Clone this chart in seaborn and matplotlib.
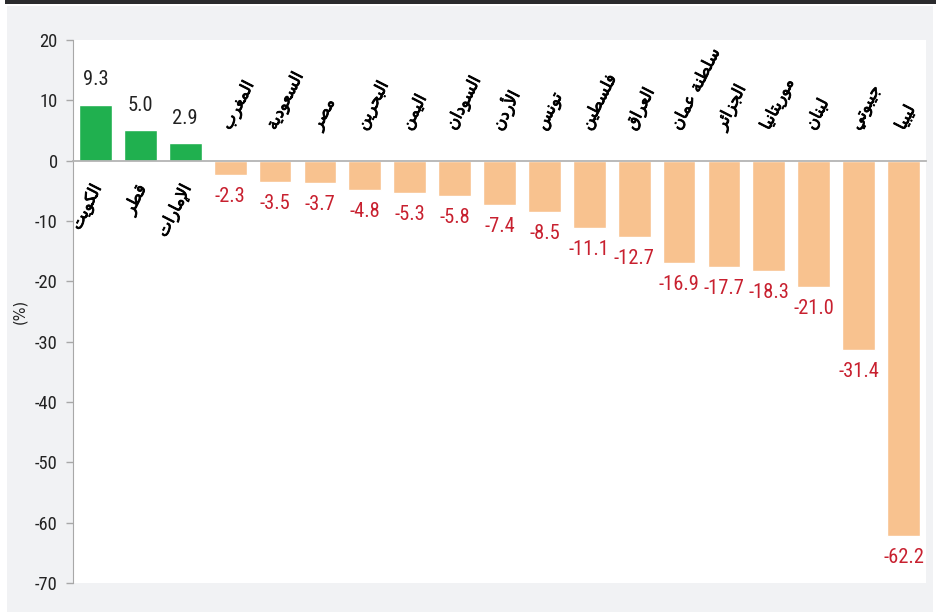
import matplotlib
matplotlib.use("Agg")
import matplotlib.pyplot as plt
from matplotlib import font_manager as fm
from matplotlib import patheffects as pe
from matplotlib.textpath import TextPath
from matplotlib.patches import Rectangle
import seaborn as sns
import pandas as pd
import numpy as np

sns.set_style('white')

# data
countries = ["الكويت", "قطر", "الإمارات", "المغرب", "السعودية", "مصر", "البحرين",
             "اليمن", "السودان", "الأردن", "تونس", "فلسطين", "العراق", "سلطنة عمان",
             "الجزائر", "موريتانيا", "لبنان", "جيبوتي", "ليبيا"]
values = [9.3, 5.0, 2.9, -2.3, -3.5, -3.7, -4.8, -5.3, -5.8, -7.4, -8.5, -11.1,
          -12.7, -16.9, -17.7, -18.3, -21.0, -31.4, -62.2]
y_ticks = [20, 10, 0, -10, -20, -30, -40, -50, -60, -70]

GREEN = "#20b04f"
PEACH = "#f8c28f"
RED = "#c8202f"

# pick the narrowest regular latin font we have (the original uses a condensed face)
families = ('dejavu', 'liberation', 'noto sans', 'roboto', 'open sans', 'lato', 'inter')
best = None
for f in fm.fontManager.ttflist:
    nm = f.name.lower()
    if not nm.startswith(families) or 'cjk' in nm or 'mono' in nm or 'serif' in nm:
        continue
    if f.style != 'normal' or f.weight not in (400, 'normal', 'regular'):
        continue
    try:
        prop = fm.FontProperties(fname=f.fname)
        bb = TextPath((0, 0), "-16.9", size=100, prop=prop).get_extents()
        ratio = bb.width / bb.height
    except Exception:
        continue
    score = abs(ratio - 2.55)
    if best is None or score < best[0]:
        best = (score, prop, bb.height)
num_prop = best[1]
digit_h = best[2] / 100          # digit height per unit font size
val_size = 15 / digit_h * 0.72     # 15 px tall digits
tick_size = 13.5 / digit_h * 0.72

# minimal arabic shaping (matplotlib has no shaper)
FORMS = {
    'ا': (0xFE8D, 0xFE8E), 'أ': (0xFE83, 0xFE84), 'إ': (0xFE87, 0xFE88),
    'ب': (0xFE8F, 0xFE90, 0xFE91, 0xFE92), 'ة': (0xFE93, 0xFE94),
    'ت': (0xFE95, 0xFE96, 0xFE97, 0xFE98), 'ج': (0xFE9D, 0xFE9E, 0xFE9F, 0xFEA0),
    'ح': (0xFEA1, 0xFEA2, 0xFEA3, 0xFEA4), 'د': (0xFEA9, 0xFEAA),
    'ر': (0xFEAD, 0xFEAE), 'ز': (0xFEAF, 0xFEB0),
    'س': (0xFEB1, 0xFEB2, 0xFEB3, 0xFEB4), 'ص': (0xFEB9, 0xFEBA, 0xFEBB, 0xFEBC),
    'ط': (0xFEC1, 0xFEC2, 0xFEC3, 0xFEC4), 'ع': (0xFEC9, 0xFECA, 0xFECB, 0xFECC),
    'غ': (0xFECD, 0xFECE, 0xFECF, 0xFED0), 'ف': (0xFED1, 0xFED2, 0xFED3, 0xFED4),
    'ق': (0xFED5, 0xFED6, 0xFED7, 0xFED8), 'ك': (0xFED9, 0xFEDA, 0xFEDB, 0xFEDC),
    'ل': (0xFEDD, 0xFEDE, 0xFEDF, 0xFEE0), 'م': (0xFEE1, 0xFEE2, 0xFEE3, 0xFEE4),
    'ن': (0xFEE5, 0xFEE6, 0xFEE7, 0xFEE8), 'ه': (0xFEE9, 0xFEEA, 0xFEEB, 0xFEEC),
    'و': (0xFEED, 0xFEEE), 'ي': (0xFEF1, 0xFEF2, 0xFEF3, 0xFEF4),
    'ئ': (0xFE89, 0xFE8A, 0xFE8B, 0xFE8C),
}
LAM_ALEF = {'ا': (0xFEFB, 0xFEFC), 'أ': (0xFEF7, 0xFEF8), 'إ': (0xFEF9, 0xFEFA)}


def shape(word):
    out = []
    i = 0
    n = len(word)
    while i < n:
        c = word[i]
        if c not in FORMS:
            out.append(c)
            i += 1
            continue
        prev = word[i - 1] if i > 0 else None
        joins_prev = prev in FORMS and len(FORMS[prev]) == 4
        if c == 'ل' and i + 1 < n and word[i + 1] in LAM_ALEF:
            lig = LAM_ALEF[word[i + 1]]
            out.append(chr(lig[1] if joins_prev else lig[0]))
            i += 2
            continue
        f = FORMS[c]
        nxt = word[i + 1] if i + 1 < n else None
        joins_next = len(f) == 4 and nxt in FORMS
        if joins_prev and joins_next:
            g = f[3]
        elif joins_prev:
            g = f[1]
        elif joins_next:
            g = f[2]
        else:
            g = f[0]
        out.append(chr(g))
        i += 1
    return ''.join(out)[::-1]


df = pd.DataFrame({'country': countries, 'value': values})
colors = [GREEN if v > 0 else PEACH for v in values]

fig = plt.figure(figsize=(9.36, 6.12), dpi=100)
fig.patch.set_facecolor('white')
fig.patches.append(Rectangle((7 / 936, 0), 926 / 936, 606 / 612, transform=fig.transFigure,
                             facecolor='#f1f2f4', edgecolor='none', zorder=-10))
fig.patches.append(Rectangle((5 / 936, 608 / 612), 1, 4 / 612, transform=fig.transFigure,
                             facecolor='#2b2b2d', edgecolor='none', zorder=-10))

ax = fig.add_axes([73 / 936, 1 - 583 / 612, 853 / 936, 543 / 612])
ax.set_facecolor('white')
sns.barplot(data=df, x='country', y='value', hue='country', palette=colors,
            legend=False, width=0.73, saturation=1, ax=ax)

ax.set_xlim(-0.5, len(countries) - 0.5)
ax.set_ylim(-70, 20)
ax.set_yticks(y_ticks)
ax.set_yticklabels([str(t) for t in y_ticks])

for lab in ax.get_yticklabels():
    lab.set_fontproperties(num_prop)
    lab.set_fontsize(tick_size)
    lab.set_color('#222222')

for side in ['top', 'right']:
    ax.spines[side].set_visible(False)
ax.spines['left'].set_color('#a8a8a8')
ax.spines['bottom'].set_color('#b4b4b4')
ax.spines['bottom'].set_linewidth(1.3)
ax.spines['bottom'].set_position(('data', 0))
ax.set_xticks(np.arange(-0.5, len(countries), 1))
ax.set_xticklabels([])
ax.tick_params(axis='x', direction='out', length=5, color='#a8a8a8', width=1)
ax.tick_params(axis='y', direction='out', length=5, color='#a8a8a8', width=1, pad=6,
               left=True)
ax.set_xlabel('')
ax.set_ylabel('(%)', fontsize=10.5, color='#222222')
ax.yaxis.set_label_coords(-0.054, 0.5)

pt = 72 / 100
thick = [pe.withStroke(linewidth=0.6, foreground='black')]
for i, (name, v) in enumerate(zip(countries, values)):
    if v > 0:
        ax.annotate(f"{v:.1f}", (i, v), xytext=(0, 11), textcoords='offset points',
                    ha='center', va='bottom', fontproperties=num_prop, fontsize=val_size,
                    color='#222222')
        ax.annotate(shape(name), (i, 0), xytext=(2 * pt, -25 * pt), textcoords='offset points',
                    ha='right', va='center', rotation=63, rotation_mode='anchor',
                    fontsize=12, family='DejaVu Sans', color='black', path_effects=thick)
    else:
        ax.annotate(f"{v:.1f}", (i, v), xytext=(0, -12 * pt), textcoords='offset points',
                    ha='center', va='top', fontproperties=num_prop, fontsize=val_size,
                    color=RED)
        ax.annotate(shape(name), (i, 0), xytext=(-4 * pt, 32 * pt), textcoords='offset points',
                    ha='left', va='center', rotation=63, rotation_mode='anchor',
                    fontsize=12, family='DejaVu Sans', color='black', path_effects=thick)

fig.savefig('out.png', dpi=100, facecolor=fig.get_facecolor())
